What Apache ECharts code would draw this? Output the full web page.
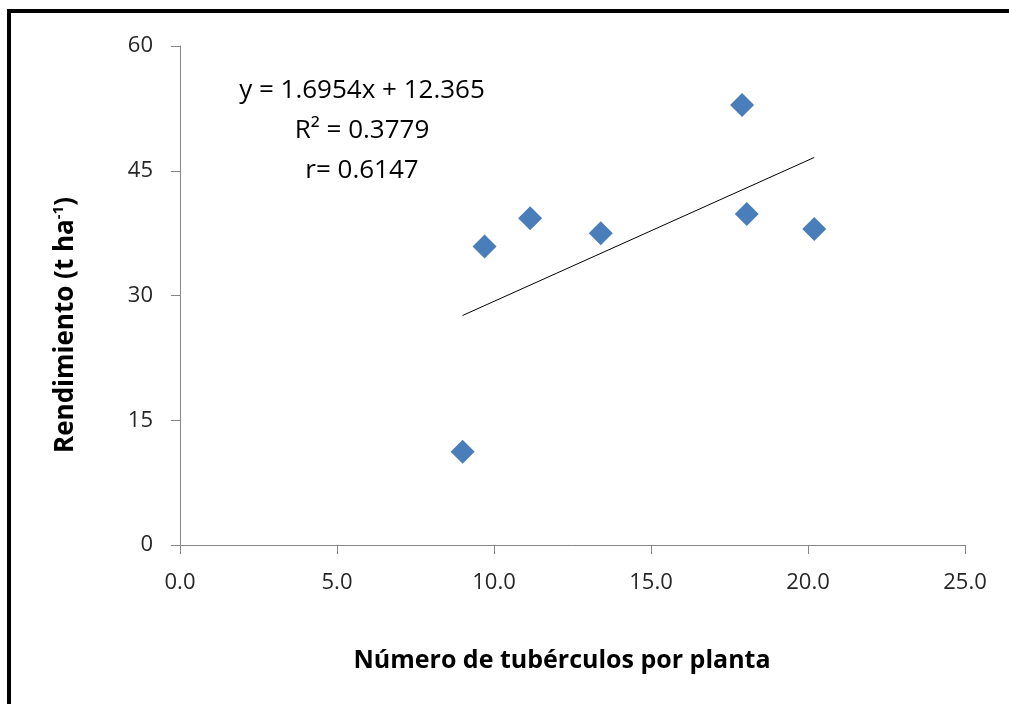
<!DOCTYPE html>
<html>
<head>
<meta charset="utf-8">
<script src="https://cdn.jsdelivr.net/npm/echarts@6/dist/echarts.min.js"></script>
<style>
html,body{margin:0;padding:0;background:#fff;}
#chart{width:1009px;height:704px;}
</style>
</head>
<body>
<div id="chart"></div>
<script>
// Data
const tuberculos = [9.0, 9.7, 11.15, 13.4, 17.9, 18.05, 20.2];
const rendimiento = [11.2, 35.9, 39.3, 37.5, 52.9, 39.8, 38.0];
const trendX = [9.0, 20.2];
const trendY = [27.6, 46.6];
const eqLines = ['y = 1.6954x + 12.365', 'R² = 0.3779', 'r= 0.6147'];
const xTitle = 'Número de tubérculos por planta';
const yTitle = ['Rendimiento (t ha', '-1', ')'];

const FONT = '"Open Sans", "Liberation Sans", sans-serif';
const points = tuberculos.map((x, i) => [x, rendimiento[i]]);
const trend = trendX.map((x, i) => [x, trendY[i]]);

const chart = echarts.init(document.getElementById('chart'), null, {renderer: 'canvas'});
chart.setOption({
  animation: false,
  backgroundColor: '#ffffff',
  grid: {left: 180, right: 44, top: 46, bottom: 159, containLabel: false},
  xAxis: {
    type: 'value', min: 0, max: 25, interval: 5,
    axisLine: {show: true, lineStyle: {color: '#868686', width: 1}},
    axisTick: {show: true, inside: false, length: 9, lineStyle: {color: '#868686'}},
    axisLabel: {fontFamily: FONT, fontSize: 22, color: '#262626', margin: 27,
      formatter: v => v.toFixed(1)},
    splitLine: {show: false}
  },
  yAxis: {
    type: 'value', min: 0, max: 60, interval: 15,
    axisLine: {show: true, lineStyle: {color: '#868686', width: 1}},
    axisTick: {show: true, inside: false, length: 9, lineStyle: {color: '#868686'}},
    axisLabel: {fontFamily: FONT, fontSize: 22, color: '#262626', margin: 27},
    splitLine: {show: false}
  },
  series: [
    {
      type: 'scatter', data: points, symbol: 'diamond', symbolSize: 24,
      itemStyle: {color: '#4A7EBB', opacity: 1}, z: 3
    },
    {
      type: 'line', data: trend, symbol: 'none', showSymbol: false,
      lineStyle: {color: '#000', width: 1}, z: 2, silent: true
    }
  ],
  graphic: [
    {type: 'rect', shape: {x: 7, y: 9, width: 1010, height: 4}, style: {fill: '#000'}},
    {type: 'rect', shape: {x: 7, y: 9, width: 4, height: 700}, style: {fill: '#000'}},
    {type: 'text', x: 362, y: 91, style: {text: eqLines[0], font: '26px ' + FONT, fill: '#000', align: 'center', verticalAlign: 'middle'}},
    {type: 'text', x: 362, y: 131, style: {text: eqLines[1], font: '26px ' + FONT, fill: '#000', align: 'center', verticalAlign: 'middle'}},
    {type: 'text', x: 362, y: 171, style: {text: eqLines[2], font: '26px ' + FONT, fill: '#000', align: 'center', verticalAlign: 'middle'}},
    {type: 'text', x: 562, y: 661, style: {text: xTitle, font: 'bold 25px ' + FONT, fill: '#000', align: 'center', verticalAlign: 'middle'}},
    {type: 'text', x: 66, y: 325, rotation: Math.PI / 2,
      style: {
        text: '{a|' + yTitle[0] + '}{s|' + yTitle[1] + '}{a|' + yTitle[2] + '}',
        align: 'center', verticalAlign: 'middle',
        rich: {
          a: {fontFamily: FONT, fontSize: 26, fontWeight: 'bold', fill: '#000'},
          s: {fontFamily: FONT, fontSize: 15, fontWeight: 'bold', fill: '#000', padding: [0, 0, 14, 0]}
        }
      }}
  ]
});
</script>
</body>
</html>
